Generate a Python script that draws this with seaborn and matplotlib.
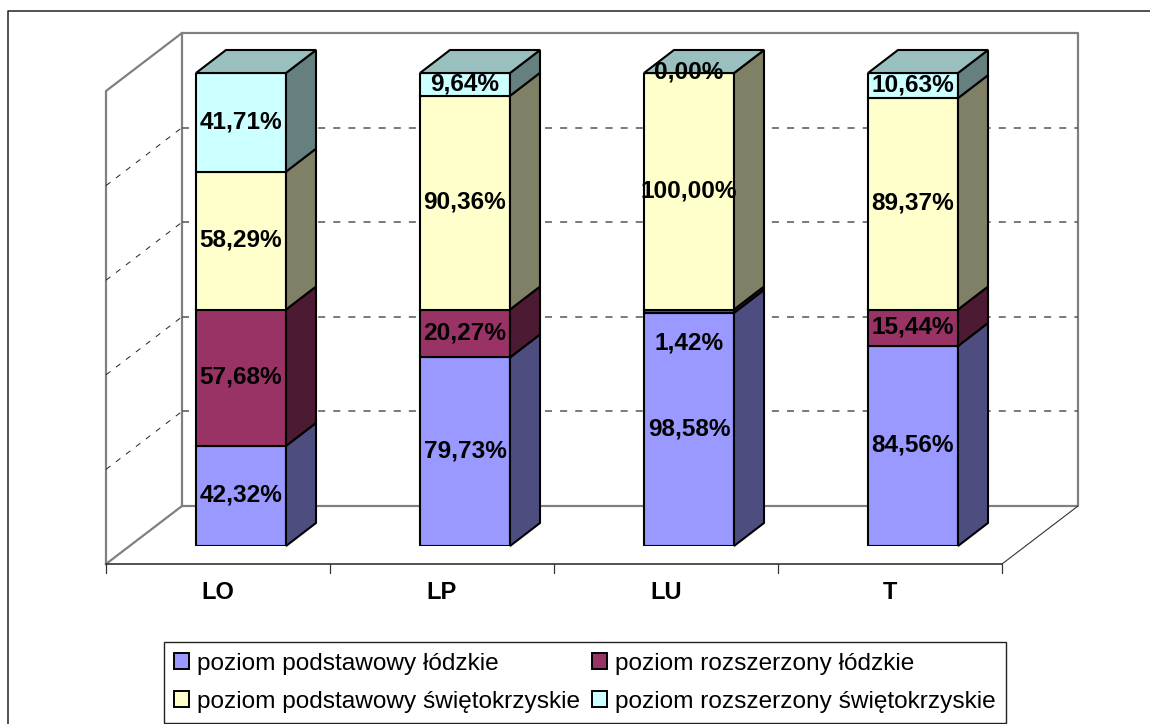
import pandas as pd
import matplotlib
matplotlib.use('Agg')
import matplotlib.pyplot as plt
import seaborn as sns
from matplotlib.patches import Polygon, Patch
from matplotlib.lines import Line2D
from matplotlib.transforms import ScaledTranslation

# ---------------------------------------------------------
# dane
# ---------------------------------------------------------
categories = ['LO', 'LP', 'LU', 'T']
podst_lodz = [42.32, 79.73, 98.58, 84.56]
rozsz_lodz = [57.68, 20.27, 1.42, 15.44]
podst_swiet = [58.29, 90.36, 100.00, 89.37]
rozsz_swiet = [41.71, 9.64, 0.00, 10.63]
series_names = ['poziom podstawowy łódzkie', 'poziom rozszerzony łódzkie',
                'poziom podstawowy świętokrzyskie', 'poziom rozszerzony świętokrzyskie']
grid_levels = [40, 80, 120, 160]

front_colors = ['#9999FF', '#993366', '#FFFFCC', '#CCFFFF']
side_colors = ['#4D4D80', '#4D1A33', '#808066', '#668080']
top_color = '#99BFBF'

W, H = 1150, 724
PX_CAT = 224.0          # px na kategorie
PX_VAL = 473 / 200      # px na jednostke
BAR_DX, BAR_DY = 30 / PX_CAT, 23 / PX_VAL     # glebokosc slupka
BACK_DX, BACK_DY = 53 / PX_CAT, 40 / PX_VAL   # sciana tylna wzgledem slupkow
FRONT_DX, FRONT_DY = -23 / PX_CAT, -18 / PX_VAL  # przod podlogi

sns.set_theme(style='white')
plt.rcParams['font.family'] = ['Liberation Sans', 'DejaVu Sans']

df = pd.DataFrame({'typ': categories, 's0': podst_lodz, 's1': rozsz_lodz,
                   's2': podst_swiet, 's3': rozsz_swiet})

fig = plt.figure(figsize=(W / 100, H / 100), dpi=100, facecolor='white')
ax = fig.add_axes([129 / W, 1 - 546 / H, 896 / W, 473 / H])
ax.patch.set_alpha(0)

# ---------------------------------------------------------
# slupki
# ---------------------------------------------------------
EDGE = 1.5
bottoms = [0.0] * len(categories)
for i in range(4):
    col = f's{i}'
    before = len(ax.patches)
    sns.barplot(data=df, x='typ', y=col, order=categories, color=front_colors[i], saturation=1,
                width=90 / PX_CAT, bottom=bottoms, errorbar=None, edgecolor='black', linewidth=EDGE,
                zorder=3, ax=ax)
    for j, p in enumerate(ax.patches[before:]):
        x0, x1 = p.get_x(), p.get_x() + p.get_width()
        y0, y1 = p.get_y(), p.get_y() + p.get_height()
        ax.add_patch(Polygon([(x1, y0), (x1 + BAR_DX, y0 + BAR_DY), (x1 + BAR_DX, y1 + BAR_DY), (x1, y1)],
                             closed=True, facecolor=side_colors[i], edgecolor='black', lw=EDGE,
                             zorder=3, clip_on=False))
        if i == 3:
            ax.add_patch(Polygon([(x0, y1), (x0 + BAR_DX, y1 + BAR_DY), (x1 + BAR_DX, y1 + BAR_DY), (x1, y1)],
                                 closed=True, facecolor=top_color, edgecolor='black', lw=EDGE,
                                 zorder=3, clip_on=False))
        label = f'{df[col][j]:.2f}'.replace('.', ',') + '%'
        yc = (y0 + y1) / 2
        if label == '1,42%':
            yc = y0 - 13      # etykieta odsunieta w dol
        ax.text(j, yc + 0.3, label, ha='center', va='center', fontsize=17.6, fontweight='bold',
                color='black', zorder=5, clip_on=False)
    bottoms = [b + v for b, v in zip(bottoms, df[col])]

ax.set_xlim(-0.5, 3.5)
ax.set_ylim(0, 200)

# ---------------------------------------------------------
# sciany i siatka
# ---------------------------------------------------------
xl, xr = -0.5, 3.5
bl, br = xl + BACK_DX, xr + BACK_DX
fl, fr = xl + FRONT_DX, xr + FRONT_DX
wall = dict(color='#808080', lw=1.6, zorder=1, clip_on=False, solid_capstyle='projecting')
ax.plot([fl, fl, bl, br, br, bl, fl], [FRONT_DY, 200 + FRONT_DY, 200 + BACK_DY, 200 + BACK_DY,
                                       BACK_DY, BACK_DY, FRONT_DY], **wall)
ax.plot([bl, bl], [BACK_DY, 200 + BACK_DY], **wall)
for lev in grid_levels:
    ax.plot([bl, br], [lev + BACK_DY] * 2, color='#555555', lw=1.1, ls=(0, (4.6, 5.3)), zorder=1, clip_on=False)
    ax.plot([fl, bl], [lev + FRONT_DY, lev + BACK_DY], color='#222222', lw=0.7, ls=(0, (5.7, 7.2)),
            zorder=1, clip_on=False)

ax.plot([fl, fr], [FRONT_DY] * 2, color='#333333', lw=1.2, zorder=2, clip_on=False)
ax.plot([fr, br], [FRONT_DY, BACK_DY], color='#333333', lw=0.8, zorder=2, clip_on=False)
for k in range(5):
    ax.plot([fl + k] * 2, [FRONT_DY, FRONT_DY - 9 / PX_VAL], color='#333333', lw=0.9, zorder=2, clip_on=False)

# ---------------------------------------------------------
# osie
# ---------------------------------------------------------
sns.despine(ax=ax, left=True, bottom=True)
ax.set_xlabel('')
ax.set_ylabel('')
ax.set_yticks([])
ax.set_xticks(range(4), categories)
ax.tick_params(axis='x', length=0, pad=25)
shift = ScaledTranslation(-23 / 100, 0, fig.dpi_scale_trans)
for t in ax.get_xticklabels():
    t.set_fontsize(17)
    t.set_fontweight('bold')
    t.set_color('black')
    t.set_transform(t.get_transform() + shift)

# ---------------------------------------------------------
# legenda i ramka
# ---------------------------------------------------------
order = [0, 2, 1, 3]  # legenda wypelnia sie kolumnami
handles = [Patch(facecolor=front_colors[i], edgecolor='black', lw=1.4) for i in order]
labels = [series_names[i] for i in order]
leg = fig.legend(handles, labels, ncols=2, loc='lower left', bbox_to_anchor=(164 / W, 1 - 723 / H),
                 borderaxespad=0, fontsize=17.55, frameon=True, fancybox=False, framealpha=1,
                 edgecolor='#222222', handlelength=0.6, handleheight=0.6, handletextpad=0.33,
                 columnspacing=0.5, labelspacing=0.66, borderpad=0.42, labelcolor='black')
leg.get_frame().set_linewidth(1.0)

fig.add_artist(Line2D([7.5 / W, 7.5 / W, 1], [0, 1 - 11 / H, 1 - 11 / H], color='#222222', lw=1.1))

fig.savefig('out.png', dpi=100)
